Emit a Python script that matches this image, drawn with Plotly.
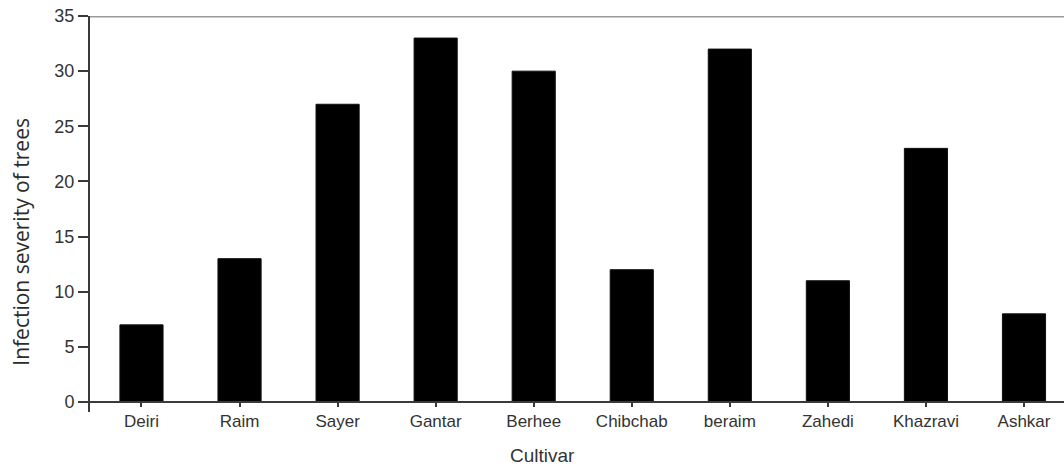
import plotly.graph_objects as go

cultivars = ["Deiri", "Raim", "Sayer", "Gantar", "Berhee", "Chibchab", "beraim", "Zahedi", "Khazravi", "Ashkar"]
severity = [7, 13, 27, 33, 30, 12, 32, 11, 23, 8]
y_ticks = [0, 5, 10, 15, 20, 25, 30, 35]
x_title = "Cultivar"
y_title = "Infection severity of trees"

axis_col = "#3a3a3a"
text_col = "#333333"

fig = go.Figure()
fig.add_trace(go.Bar(
    x=list(range(len(cultivars))), y=severity, width=0.44,
    marker=dict(color="black", line=dict(color="#111111", width=1)),
    showlegend=False,
))

ymin, ymax = -0.9, 35
zero_pos = (0 - ymin) / (ymax - ymin)

fig.update_layout(
    width=1064, height=467,
    margin=dict(l=90, r=0, t=16, b=55, autoexpand=False),
    paper_bgcolor="white", plot_bgcolor="white",
    font=dict(family="Liberation Sans, Arial", color=text_col, size=17),
    xaxis=dict(
        range=[-0.525, 9.408],
        tickmode="array",
        tickvals=list(range(len(cultivars))),
        ticktext=cultivars,
        anchor="free", position=zero_pos,
        showline=True, linecolor=axis_col, linewidth=2,
        ticks="outside", ticklen=4, tickwidth=2, tickcolor=axis_col,
        tickson="boundaries",
        showgrid=False, zeroline=False, automargin=False,
        tickfont=dict(size=17, color=text_col),
    ),
    yaxis=dict(
        range=[ymin, ymax],
        tickmode="array", tickvals=y_ticks,
        showline=True, linecolor=axis_col, linewidth=2,
        ticks="outside", ticklen=10, tickwidth=2, tickcolor=axis_col,
        showgrid=False, zeroline=False, automargin=False,
        tickfont=dict(size=18, color=text_col),
    ),
    bargap=0.56,
)

fig.add_shape(type="line", xref="paper", yref="y", x0=0, x1=1, y0=35, y1=35,
              line=dict(color="#999999", width=3), layer="below")

# axis titles placed as annotations to match the original's offsets
fig.add_annotation(text=x_title, xref="paper", yref="paper", x=0.465, y=0,
                   xanchor="center", yanchor="middle", yshift=-43, showarrow=False,
                   font=dict(size=19, color=text_col))
fig.add_annotation(text=y_title, xref="paper", yref="paper", x=0, y=0.43,
                   xanchor="center", yanchor="middle", xshift=-69, textangle=-90,
                   showarrow=False,
                   font=dict(family="Open Sans", size=21, color="#2b2b2b"))

fig.write_html("out.html", config={"displayModeBar": False},
               post_script="document.body.style.margin='0';document.body.style.overflow='hidden';")
